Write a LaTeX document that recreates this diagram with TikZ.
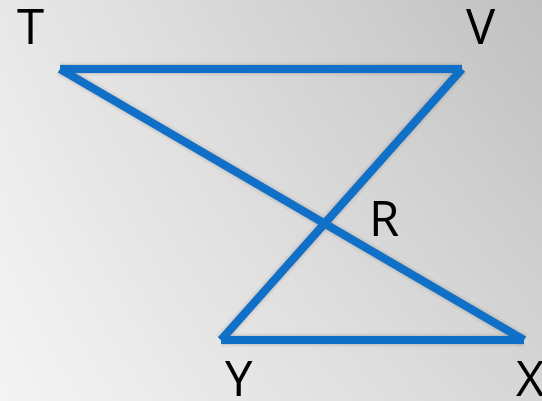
\documentclass[tikz,border=0pt]{standalone}
\usepackage{fontspec}
\setmainfont{Open Sans}
\usetikzlibrary{shadings}
\definecolor{bgUL}{RGB}{232,232,232}
\definecolor{bgUR}{RGB}{192,192,192}
\definecolor{bgLL}{RGB}{244,244,244}
\definecolor{bgLR}{RGB}{214,214,214}
\definecolor{segblue}{RGB}{16,112,200}
\begin{document}
\begin{tikzpicture}[x=1pt,y=-1pt,
  seg/.style={line width=8pt,draw=segblue},
  segshadow/.style={line width=10pt,draw=black,opacity=0.07},
  lbl/.style={font=\fontsize{49}{49}\selectfont,text=black,inner sep=0pt,anchor=center}]
\useasboundingbox (0,0) rectangle (542,400);
\shade[upper left=bgUL,upper right=bgUR,lower left=bgLL,lower right=bgLR]
  (0,0) rectangle (542,400);
\coordinate (T) at (60,69);
\coordinate (V) at (462,69);
\coordinate (Y) at (221,340);
\coordinate (X) at (524,340);
% shadows
\begin{scope}[shift={(3,5)}]
\draw[segshadow] (T) -- (V);
\draw[segshadow] (V) -- (Y);
\draw[segshadow] (Y) -- (X);
\draw[segshadow] (X) -- (T);
\draw[segshadow,line width=14pt,opacity=0.04] (T) -- (V);
\draw[segshadow,line width=14pt,opacity=0.04] (V) -- (Y);
\draw[segshadow,line width=14pt,opacity=0.04] (Y) -- (X);
\draw[segshadow,line width=14pt,opacity=0.04] (X) -- (T);
\end{scope}
\draw[seg] (T) -- (V);
\draw[seg] (V) -- (Y);
\draw[seg] (Y) -- (X);
\draw[seg] (X) -- (T);
\node[lbl] (lT) at (31,27) {T};
\node[lbl] (lV) at (481,27) {V};
\node[lbl] (lR) at (385,219) {R};
\node[lbl] (lY) at (239,379) {Y};
\node[lbl] (lX) at (531,379) {X};
\end{tikzpicture}
\end{document}
